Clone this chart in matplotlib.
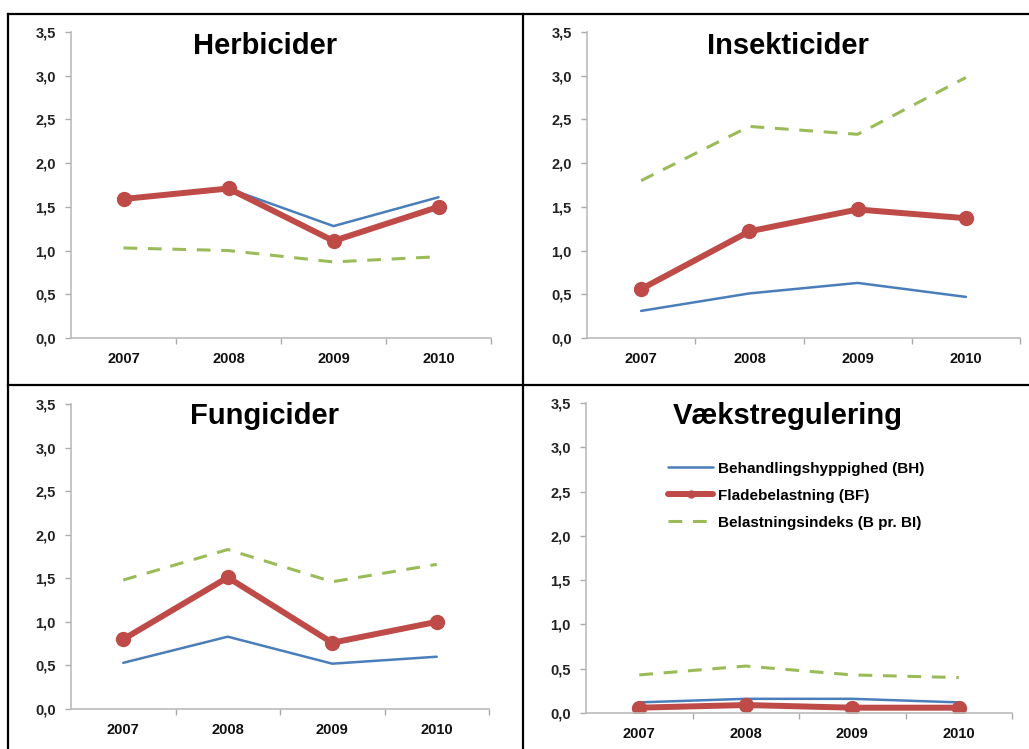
#!/usr/bin/env python3

import matplotlib
matplotlib.use('Agg')
import matplotlib.pyplot as plt
from matplotlib.lines import Line2D

plt.rcParams['font.family'] = ['Liberation Sans', 'DejaVu Sans']

years = ['2007', '2008', '2009', '2010']
yticks = [0.0, 0.5, 1.0, 1.5, 2.0, 2.5, 3.0, 3.5]
ytick_labels = ['0,0', '0,5', '1,0', '1,5', '2,0', '2,5', '3,0', '3,5']

titles = ['Herbicider', 'Insekticider', 'Fungicider', 'Vækstregulering']
series_names = ['Behandlingshyppighed (BH)', 'Fladebelastning (BF)',
                'Belastningsindeks (B pr. BI)']

# Behandlingshyppighed (BH)
bh_herb = [1.59, 1.71, 1.28, 1.61]
bh_insekt = [0.31, 0.51, 0.63, 0.47]
bh_fung = [0.53, 0.83, 0.52, 0.60]
bh_vaekst = [0.12, 0.16, 0.16, 0.12]

# Fladebelastning (BF)
bf_herb = [1.59, 1.71, 1.11, 1.50]
bf_insekt = [0.56, 1.22, 1.47, 1.37]
bf_fung = [0.80, 1.51, 0.76, 1.00]
bf_vaekst = [0.06, 0.09, 0.06, 0.06]

# Belastningsindeks (B pr. BI)
bi_herb = [1.03, 1.00, 0.87, 0.93]
bi_insekt = [1.80, 2.42, 2.33, 2.98]
bi_fung = [1.48, 1.83, 1.46, 1.66]
bi_vaekst = [0.43, 0.53, 0.43, 0.40]

W, H = 1029, 749
fig = plt.figure(figsize=(W / 100, H / 100), dpi=100)


def px_rect(x0, y0, x1, y1):
	return [x0 / W, 1 - y1 / H, (x1 - x0) / W, (y1 - y0) / H]


def fig_line(xs, ys):
	fig.add_artist(Line2D([x / W for x in xs], [1 - y / H for y in ys],
	                      transform=fig.transFigure, color='black', lw=1.6))


# panel borders
fig_line([8, 1029], [14, 14])
fig_line([8, 8], [14, 749])
fig_line([523, 523], [14, 749])
fig_line([8, 1029], [385, 385])

panels = [
	(px_rect(71, 32, 491, 338), (265, 46), bh_herb, bf_herb, bi_herb),
	(px_rect(587, 32, 1020, 338), (788, 46), bh_insekt, bf_insekt, bi_insekt),
	(px_rect(71, 404, 489, 709), (265, 416), bh_fung, bf_fung, bi_fung),
	(px_rect(586, 403, 1012, 713), (788, 416), bh_vaekst, bf_vaekst, bi_vaekst),
]

x = list(range(len(years)))
for i, (rect, tpos, bh, bf, bi) in enumerate(panels):
	ax = fig.add_axes(rect)
	l1, = ax.plot(x, bh, color='#4A7EBB', lw=1.8, solid_capstyle='round')
	l2, = ax.plot(x, bf, color='#BE4B48', lw=4.3, marker='o', markersize=10,
	              solid_capstyle='round')
	l3, = ax.plot(x, bi, color='#9BBB59', lw=2.2, dashes=(4.5, 3.5))
	ax.set_xlim(-0.5, 3.5)
	ax.set_ylim(0, 3.5)
	ax.set_yticks(yticks)
	ax.set_yticklabels(ytick_labels, fontsize=10.5, fontweight='bold', color='#222222')
	ax.set_xticks(x)
	ax.set_xticklabels(years, fontsize=10.5, fontweight='bold', color='#111111')
	ax.set_xticks([0.5, 1.5, 2.5, 3.5], minor=True)
	ax.tick_params(axis='x', which='major', length=0, pad=10)
	ax.tick_params(axis='x', which='minor', length=4, color='#AAAAAA', width=1)
	ax.tick_params(axis='y', length=4, color='#AAAAAA', width=1, pad=7)
	for side in ['top', 'right']:
		ax.spines[side].set_visible(False)
	for side in ['left', 'bottom']:
		ax.spines[side].set_color('#BBBBBB')
		ax.spines[side].set_linewidth(1.2)
	ax.patch.set_alpha(0)
	fig.text(tpos[0] / W, 1 - tpos[1] / H, titles[i], ha='center', va='center',
	         fontsize=21, fontweight='bold')
	if i == 3:
		ax.legend([l1, l2, l3], series_names, loc='upper left',
		          bbox_to_anchor=(660 / W, 1 - 454 / H), bbox_transform=fig.transFigure,
		          frameon=False, borderpad=0, handlelength=3.0, handletextpad=0.3,
		          labelspacing=0.85, numpoints=1, markerscale=0.5,
		          prop={'size': 11, 'weight': 'bold'})

plt.savefig('out.png', dpi=100)
